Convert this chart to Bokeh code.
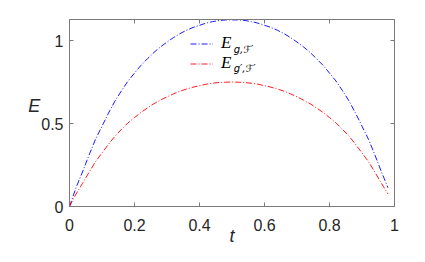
from bokeh.plotting import figure
from bokeh.models import Range1d, LinearAxis, FixedTicker, Legend, LegendItem, Label
from bokeh.embed import file_html
from bokeh.resources import INLINE

t = [0.00, 0.02, 0.04, 0.06, 0.08, 0.10, 0.12, 0.14, 0.16, 0.18,
     0.20, 0.22, 0.24, 0.26, 0.28, 0.30, 0.32, 0.34, 0.36, 0.38,
     0.40, 0.42, 0.44, 0.46, 0.48, 0.50, 0.52, 0.54, 0.56, 0.58,
     0.60, 0.62, 0.64, 0.66, 0.68, 0.70, 0.72, 0.74, 0.76, 0.78,
     0.80, 0.82, 0.84, 0.86, 0.88, 0.90, 0.92, 0.94, 0.96, 0.98]

E_g_F = [0, 0.113, 0.208, 0.309, 0.405, 0.484, 0.563, 0.636, 0.698, 0.756,
         0.804, 0.851, 0.891, 0.929, 0.962, 0.991, 1.018, 1.042, 1.062, 1.079,
         1.092, 1.105, 1.114, 1.121, 1.124, 1.125, 1.124, 1.121, 1.114, 1.105,
         1.092, 1.079, 1.062, 1.042, 1.018, 0.991, 0.962, 0.929, 0.891, 0.851,
         0.804, 0.756, 0.698, 0.636, 0.563, 0.484, 0.405, 0.309, 0.208, 0.113]

E_gp_F = [0, 0.075, 0.139, 0.206, 0.270, 0.323, 0.375, 0.424, 0.465, 0.504,
          0.536, 0.567, 0.594, 0.620, 0.641, 0.661, 0.679, 0.695, 0.708, 0.719,
          0.728, 0.737, 0.743, 0.747, 0.749, 0.750, 0.749, 0.747, 0.743, 0.737,
          0.728, 0.719, 0.708, 0.695, 0.679, 0.661, 0.641, 0.620, 0.594, 0.567,
          0.536, 0.504, 0.465, 0.424, 0.375, 0.323, 0.270, 0.206, 0.139, 0.075]

x_ticks = [0, 0.2, 0.4, 0.6, 0.8, 1]
x_tick_labels = ["0", "0.2", "0.4", "0.6", "0.8", "1"]
y_ticks = [0, 0.5, 1]
y_tick_labels = ["0", "0.5", "1"]

AX = "#7a7a7a"
TXT = "#262626"

p = figure(width=417, height=254, output_backend="svg", toolbar_location=None,
           x_range=Range1d(0, 1), y_range=Range1d(0, 1.127),
           min_border_left=69, min_border_right=23, min_border_top=19, min_border_bottom=48)
p.xgrid.visible = False
p.ygrid.visible = False
p.outline_line_color = AX
p.outline_line_width = 1
p.background_fill_color = "white"

def style_axis(ax, ticks, labels, show_labels):
    ax.ticker = FixedTicker(ticks=ticks)
    ax.major_tick_in = 4
    ax.major_tick_out = 0
    ax.minor_tick_in = 0
    ax.minor_tick_out = 0
    ax.axis_line_color = AX
    ax.major_tick_line_color = AX
    ax.major_label_text_font = "Liberation Sans"
    ax.major_label_text_color = TXT
    if show_labels:
        ax.major_label_overrides = {tk: lb for tk, lb in zip(ticks, labels)}
        ax.major_label_text_font_size = "16px"
    else:
        ax.major_label_overrides = {tk: "" for tk in ticks}
        ax.major_label_text_font_size = "1px"
        ax.major_label_standoff = 0

style_axis(p.xaxis[0], x_ticks, x_tick_labels, True)
style_axis(p.yaxis[0], y_ticks, y_tick_labels, True)
p.xaxis[0].major_label_standoff = 12
p.yaxis[0].major_label_standoff = 6

p.xaxis.axis_label = "t"
p.yaxis.axis_label = "E\n"
for ax in (p.xaxis[0], p.yaxis[0]):
    ax.axis_label_text_font = "Liberation Sans"
    ax.axis_label_text_font_style = "italic"
    ax.axis_label_text_font_size = "18px"
    ax.axis_label_text_color = TXT
p.xaxis[0].axis_label_standoff = -8
p.yaxis[0].axis_label_standoff = -2
p.yaxis[0].axis_label_orientation = "horizontal"
p.yaxis[0].axis_label_text_line_height = 0.75

top = LinearAxis()
right = LinearAxis()
style_axis(top, x_ticks, x_tick_labels, False)
style_axis(right, y_ticks, y_tick_labels, False)
p.add_layout(top, "above")
p.add_layout(right, "right")

r1 = p.line(t, E_g_F, line_color="#0000ff", line_width=0.9, line_dash="6 2 1 2")
r2 = p.line(t, E_gp_F, line_color="#ff0000", line_width=0.9, line_dash="6 2 1 2")

legend = Legend(items=[LegendItem(label="E", renderers=[r1]),
                       LegendItem(label="E", renderers=[r2])],
                location=(121, 133), orientation="vertical")
legend.background_fill_alpha = 0
legend.border_line_alpha = 0
legend.padding = 0
legend.margin = 0
legend.spacing = 0
legend.glyph_width = 23
legend.glyph_height = 19
legend.label_height = 19
legend.label_standoff = 8
legend.label_text_font = "Liberation Serif"
legend.label_text_font_style = "italic"
legend.label_text_font_size = "17px"
legend.label_text_color = "black"
p.add_layout(legend, "center")

sub1 = Label(x=0.505, y=0.945, text="g,ℱ′", text_font="DejaVu Sans",
             text_font_style="italic", text_font_size="10px", text_baseline="middle",
             text_color="black")
sub2 = Label(x=0.505, y=0.83, text="g′,ℱ′", text_font="DejaVu Sans",
             text_font_style="italic", text_font_size="10px", text_baseline="middle",
             text_color="black")
p.add_layout(sub1)
p.add_layout(sub2)

open("out.html", "w").write(file_html(p, INLINE))
